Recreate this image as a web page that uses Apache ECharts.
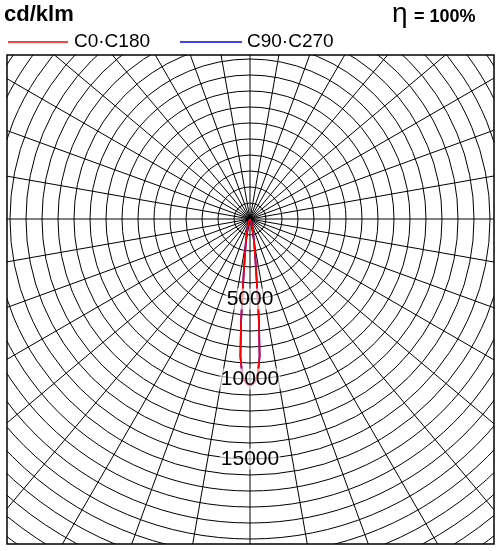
<!DOCTYPE html><html><head><meta charset="utf-8"><script src="https://cdn.jsdelivr.net/npm/echarts@6/dist/echarts.min.js"></script></head><body style="margin:0"><div id="c" style="width:500px;height:551px"></div><script>
const gammas=[0,1,2,3,4,5,6,7,8,10,12,15,20,30,40,60,90,180];
const intens=[10400,10330,10100,9600,8600,6400,4200,3000,2300,1500,1000,600,300,100,40,10,0,0];
const tickLabels=[5000,10000,15000];
function full(){const d=[];for(let i=gammas.length-1;i>0;i--)d.push([intens[i],180-gammas[i]]);for(let i=0;i<gammas.length;i++)d.push([intens[i],180+gammas[i]]);return d;}
const ch=echarts.init(document.getElementById('c'));
const L=7,T=55,R=494,B=544;
const font='Liberation Sans, Arial, sans-serif';
ch.setOption({animation:false,
polar:{center:[250,219],radius:416},
angleAxis:{type:'value',min:0,max:360,interval:10,startAngle:90,clockwise:true,axisLine:{show:false},axisTick:{show:false},axisLabel:{show:false},splitLine:{lineStyle:{color:'#000',width:1}}},
radiusAxis:{type:'value',min:0,max:26000,interval:1000,axisLine:{show:false},axisTick:{show:false},axisLabel:{show:false},splitLine:{lineStyle:{color:'#000',width:1}}},
series:[{type:'line',coordinateSystem:'polar',data:full(),showSymbol:false,smooth:false,lineStyle:{color:'#0000ff',width:1.8},z:3},
{type:'line',coordinateSystem:'polar',data:full(),showSymbol:false,smooth:false,lineStyle:{color:'#ff0000',width:1.8},z:4}]});
const g=[
{type:'rect',shape:{x:0,y:0,width:500,height:T},style:{fill:'#fff'},z:100},
{type:'rect',shape:{x:0,y:B,width:500,height:551-B},style:{fill:'#fff'},z:100},
{type:'rect',shape:{x:0,y:0,width:L,height:551},style:{fill:'#fff'},z:100},
{type:'rect',shape:{x:R,y:0,width:500-R,height:551},style:{fill:'#fff'},z:100},
{type:'rect',shape:{x:L,y:T,width:R-L,height:B-T},style:{fill:'none',stroke:'#000',lineWidth:1.5},z:101},
{type:'text',x:4,y:4,style:{text:'cd/klm',font:'bold 22px '+font,fill:'#000'},z:102},
{type:'line',shape:{x1:8,y1:42,x2:68,y2:42},style:{stroke:'#ff0000',lineWidth:1.5},z:102},
{type:'text',x:74,y:32,style:{text:'C0·C180',font:'19px '+font,fill:'#000'},z:102},
{type:'line',shape:{x1:180,y1:42,x2:242,y2:42},style:{stroke:'#0000ff',lineWidth:1.5},z:102},
{type:'text',x:247,y:32,style:{text:'C90·C270',font:'19px '+font,fill:'#000'},z:102},
{type:'text',x:392,y:0,style:{text:'η',font:'28px '+font,fill:'#000'},z:102},
{type:'text',x:414,y:8,style:{text:'= 100%',font:'bold 18px '+font,fill:'#000'},z:102}
];
tickLabels.forEach(v=>{const p=ch.convertToPixel({polarIndex:0},[v,180]);g.push({type:'text',x:p[0],y:p[1],style:{text:String(v),font:'21px '+font,fill:'#000',align:'center',verticalAlign:'middle',backgroundColor:'rgba(255,255,255,0.6)',padding:[0,1]},z:50});});
ch.setOption({graphic:g});
</script></body></html>
